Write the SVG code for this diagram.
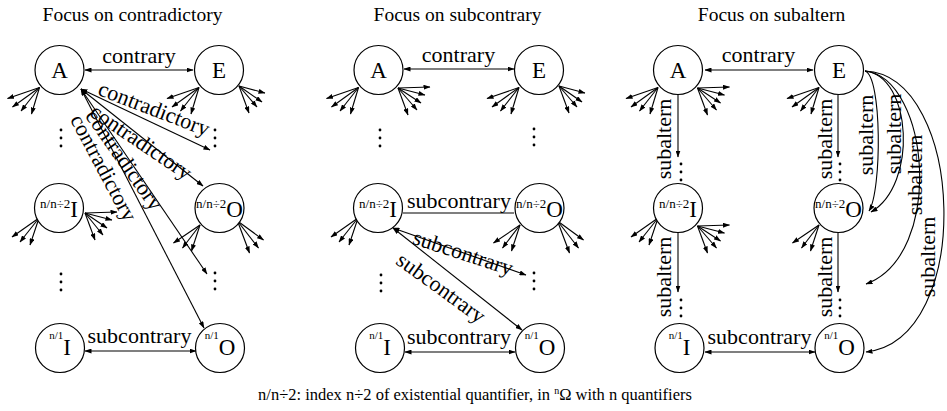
<svg xmlns="http://www.w3.org/2000/svg" xmlns:xlink="http://www.w3.org/1999/xlink" width="947" height="411" viewBox="0 0 947 411">
<style>
text{font-family:"Liberation Serif","Times New Roman",serif;fill:#000}
.title{font-size:19.5px}
.lbl{font-size:22px}
.big{font-size:23px}
.sup2{font-size:13px}
.sup1{font-size:11px}
.cap{font-size:16.5px}
circle.node{fill:#fff;stroke:#000;stroke-width:1.2}
.c line,.c path,.fan line{stroke:#000;stroke-width:1.1;fill:none}
.dbl{marker-start:url(#ah);marker-end:url(#ah)}
.one,.fan line{marker-end:url(#ah)}
.dot{fill:#000}
</style>
<defs>
<marker id="ah" markerUnits="userSpaceOnUse" markerWidth="7" markerHeight="5" refX="6.5" refY="2.5" orient="auto-start-reverse"><path d="M0,0 L7,2.5 L0,5 z" fill="#000"/></marker>
<g id="fanL4" class="fan"><line x1="-20" y1="17.5" x2="-52" y2="28.5"/><line x1="-20" y1="17.5" x2="-47" y2="37"/><line x1="-20" y1="17.5" x2="-38.5" y2="41"/><line x1="-20" y1="17.5" x2="-28" y2="44"/></g>
<g id="fanR5" class="fan"><line x1="19.5" y1="18" x2="51.5" y2="17"/><line x1="19.5" y1="18" x2="46.5" y2="25"/><line x1="19.5" y1="18" x2="42.5" y2="33"/><line x1="19.5" y1="18" x2="38.5" y2="40"/><line x1="19.5" y1="18" x2="29.5" y2="45"/></g>
<g id="fanER4" class="fan"><line x1="20" y1="16" x2="46" y2="23"/><line x1="20" y1="16" x2="43" y2="32"/><line x1="20" y1="16" x2="38" y2="37"/><line x1="20" y1="16" x2="30" y2="43"/></g>
<g id="fanIL3" class="fan"><line x1="-20" y1="10" x2="-47" y2="29"/><line x1="-20" y1="10" x2="-39" y2="34"/><line x1="-20" y1="10" x2="-29" y2="37"/></g>
<g id="fanOL3" class="fan"><line x1="-19.5" y1="17" x2="-46" y2="35"/><line x1="-19.5" y1="17" x2="-37" y2="40"/><line x1="-19.5" y1="17" x2="-28" y2="43"/></g>
<g id="fanOR3" class="fan"><line x1="18" y1="13" x2="44" y2="32"/><line x1="18" y1="13" x2="39" y2="40"/><line x1="18" y1="13" x2="30" y2="45"/></g>
<g id="fanIR5b" class="fan"><line x1="26" y1="5" x2="58" y2="4"/><line x1="26" y1="5" x2="53" y2="12"/><line x1="26" y1="5" x2="48" y2="20"/><line x1="26" y1="5" x2="44" y2="27"/><line x1="26" y1="5" x2="36" y2="32"/></g>
<g id="vdots"><circle class="dot" cx="0" cy="0" r="1.4"/><circle class="dot" cx="0" cy="8" r="1.4"/><circle class="dot" cx="0" cy="16" r="1.4"/></g>
</defs>
<rect width="947" height="411" fill="#fff"/>

<!-- titles -->
<text class="title" x="132.5" y="21" text-anchor="middle">Focus on contradictory</text>
<text class="title" x="457.5" y="21" text-anchor="middle">Focus on subcontrary</text>
<text class="title" x="771.5" y="21" text-anchor="middle">Focus on subaltern</text>

<!-- connectors -->
<g id="connectors" class="c">
 <!-- panel 1 -->
 <line class="dbl" x1="85" y1="70" x2="193" y2="70"/>
 <line class="dbl" x1="81" y1="89" x2="210" y2="150"/>
 <line class="dbl" x1="81" y1="89" x2="203" y2="186"/>
 <line class="dbl" x1="81" y1="89" x2="207" y2="274"/>
 <line class="dbl" x1="81" y1="89" x2="204" y2="328"/>
 <line class="dbl" x1="85" y1="351" x2="196" y2="351"/>
 <use href="#fanL4" x="59.5" y="70"/>
 <use href="#fanL4" x="219" y="70"/>
 <use href="#fanER4" x="219" y="70"/>
 <use href="#fanIL3" x="59" y="208"/>
 <use href="#fanIR5b" x="59" y="208"/>
 <use href="#fanOL3" x="219.5" y="208"/>
 <use href="#fanOR3" x="219.5" y="208"/>
 <!-- panel 2 -->
 <line class="dbl" x1="404" y1="69" x2="514" y2="69"/>
 <line x1="403" y1="213" x2="514" y2="213"/>
 <line class="dbl" x1="393" y1="228" x2="526" y2="275"/>
 <line class="dbl" x1="393" y1="228" x2="522" y2="330"/>
 <line class="dbl" x1="405" y1="352" x2="515" y2="352"/>
 <use href="#fanL4" x="378.5" y="70"/>
 <use href="#fanR5" x="378.5" y="70"/>
 <use href="#fanL4" x="539" y="70"/>
 <use href="#fanER4" x="539" y="70"/>
 <use href="#fanIL3" x="378" y="208"/>
 <use href="#fanOL3" x="539.5" y="208"/>
 <use href="#fanOR3" x="539.5" y="208"/>
 <!-- panel 3 -->
 <line class="dbl" x1="705" y1="70" x2="813" y2="70"/>
 <line class="one" x1="678" y1="95" x2="678" y2="157"/>
 <line class="one" x1="838" y1="95" x2="838" y2="157"/>
 <line class="one" x1="678" y1="233" x2="678" y2="292"/>
 <line class="one" x1="838" y1="233" x2="838" y2="292"/>
 <line class="dbl" x1="705" y1="352" x2="815" y2="352"/>
 <path class="one" d="M865,71 C882,76 882,190 869,211"/>
 <path class="one" d="M865,71 C912,76 918,185 871,212"/>
 <path class="one" d="M865,71 C930,78 945,255 866,284"/>
 <path class="one" d="M865,71 C965,75 975,340 866,352"/>
 <use href="#fanL4" x="678" y="70"/>
 <use href="#fanR5" x="678" y="70"/>
 <use href="#fanL4" x="839" y="70"/>
 <use href="#fanIL3" x="678" y="208"/>
 <use href="#fanR5" x="678" y="208"/>
 <use href="#fanOL3" x="838.5" y="208"/>
</g>

<!-- connector labels -->
<g id="labels">
 <text class="lbl" x="139" y="63" text-anchor="middle">contrary</text>
 <text class="lbl" x="154" y="116" text-anchor="middle" transform="rotate(21 154 109)">contradictory</text>
 <text class="lbl" x="141" y="149" text-anchor="middle" transform="rotate(34 141 142)">contradictory</text>
 <text class="lbl" x="124" y="167" text-anchor="middle" transform="rotate(55 124 160)">contradictory</text>
 <text class="lbl" x="103.5" y="175" text-anchor="middle" transform="rotate(62 103.5 168)">contradictory</text>
 <text class="lbl" x="139.5" y="343" text-anchor="middle">subcontrary</text>

 <text class="lbl" x="458.5" y="62" text-anchor="middle">contrary</text>
 <text class="lbl" x="459" y="208" text-anchor="middle">subcontrary</text>
 <text class="lbl" x="463" y="260" text-anchor="middle" transform="rotate(18 463 253)">subcontrary</text>
 <text class="lbl" x="441" y="295" text-anchor="middle" transform="rotate(36 441 288)">subcontrary</text>
 <text class="lbl" x="459" y="344" text-anchor="middle">subcontrary</text>

 <text class="lbl" x="758.5" y="62" text-anchor="middle">contrary</text>
 <text class="lbl" text-anchor="middle" transform="translate(671 139) rotate(-90)">subaltern</text>
 <text class="lbl" text-anchor="middle" transform="translate(671 277) rotate(-90)">subaltern</text>
 <text class="lbl" text-anchor="middle" transform="translate(832 139) rotate(-90)">subaltern</text>
 <text class="lbl" text-anchor="middle" transform="translate(832 277) rotate(-90)">subaltern</text>
 <text class="lbl" text-anchor="middle" transform="translate(873 135) rotate(-90)">subaltern</text>
 <text class="lbl" text-anchor="middle" transform="translate(901 134) rotate(-90)">subaltern</text>
 <text class="lbl" text-anchor="middle" transform="translate(922 175) rotate(-90)">subaltern</text>
 <text class="lbl" text-anchor="middle" transform="translate(935 257) rotate(-90)">subaltern</text>
 <text class="lbl" x="759.5" y="344" text-anchor="middle">subcontrary</text>
</g>

<!-- ellipsis dots -->
<g id="dots">
 <use href="#vdots" x="61" y="130"/>
 <use href="#vdots" x="215" y="130"/>
 <use href="#vdots" x="61" y="274"/>
 <use href="#vdots" x="215" y="273"/>
 <use href="#vdots" x="380" y="130"/>
 <use href="#vdots" x="534" y="129"/>
 <use href="#vdots" x="381" y="275"/>
 <use href="#vdots" x="534" y="273"/>
 <use href="#vdots" x="681" y="164"/>
 <use href="#vdots" x="840" y="164"/>
 <use href="#vdots" x="681" y="300"/>
 <use href="#vdots" x="840" y="300"/>
</g>

<!-- panel 1 nodes -->
<g id="p1-A"><circle class="node" cx="59.5" cy="70" r="24.5"/><text class="big" x="59.5" y="78" text-anchor="middle">A</text></g>
<g id="p1-E"><circle class="node" cx="219" cy="70" r="24.5"/><text class="big" x="219" y="78" text-anchor="middle">E</text></g>
<g id="p1-I2"><circle class="node" cx="59" cy="208" r="24.5"/><text x="59" y="217" text-anchor="middle"><tspan class="sup2" dy="-9">n/n÷2</tspan><tspan class="big" dy="9">I</tspan></text></g>
<g id="p1-O2"><circle class="node" cx="219.5" cy="208" r="24.5"/><text x="219.5" y="217" text-anchor="middle"><tspan class="sup2" dy="-9">n/n÷2</tspan><tspan class="big" dy="9">O</tspan></text></g>
<g id="p1-I1"><circle class="node" cx="60" cy="348" r="24.5"/><text x="60" y="355" text-anchor="middle"><tspan class="sup1" dy="-16">n/1</tspan><tspan class="big" dy="16">I</tspan></text></g>
<g id="p1-O1"><circle class="node" cx="220" cy="348" r="24.5"/><text x="220" y="355" text-anchor="middle"><tspan class="sup1" dy="-16">n/1</tspan><tspan class="big" dy="16">O</tspan></text></g>

<!-- panel 2 nodes -->
<g id="p2-A"><circle class="node" cx="378.5" cy="70" r="24.5"/><text class="big" x="378.5" y="78" text-anchor="middle">A</text></g>
<g id="p2-E"><circle class="node" cx="539" cy="70" r="24.5"/><text class="big" x="539" y="78" text-anchor="middle">E</text></g>
<g id="p2-I2"><circle class="node" cx="378" cy="208" r="24.5"/><text x="378" y="217" text-anchor="middle"><tspan class="sup2" dy="-9">n/n÷2</tspan><tspan class="big" dy="9">I</tspan></text></g>
<g id="p2-O2"><circle class="node" cx="539.5" cy="208" r="24.5"/><text x="539.5" y="217" text-anchor="middle"><tspan class="sup2" dy="-9">n/n÷2</tspan><tspan class="big" dy="9">O</tspan></text></g>
<g id="p2-I1"><circle class="node" cx="380" cy="348" r="24.5"/><text x="380" y="355" text-anchor="middle"><tspan class="sup1" dy="-16">n/1</tspan><tspan class="big" dy="16">I</tspan></text></g>
<g id="p2-O1"><circle class="node" cx="540" cy="348" r="24.5"/><text x="540" y="355" text-anchor="middle"><tspan class="sup1" dy="-16">n/1</tspan><tspan class="big" dy="16">O</tspan></text></g>

<!-- panel 3 nodes -->
<g id="p3-A"><circle class="node" cx="678" cy="70" r="24.5"/><text class="big" x="678" y="78" text-anchor="middle">A</text></g>
<g id="p3-E"><circle class="node" cx="839" cy="70" r="24.5"/><text class="big" x="839" y="78" text-anchor="middle">E</text></g>
<g id="p3-I2"><circle class="node" cx="678" cy="208" r="24.5"/><text x="678" y="217" text-anchor="middle"><tspan class="sup2" dy="-9">n/n÷2</tspan><tspan class="big" dy="9">I</tspan></text></g>
<g id="p3-O2"><circle class="node" cx="838.5" cy="208" r="24.5"/><text x="838.5" y="217" text-anchor="middle"><tspan class="sup2" dy="-9">n/n÷2</tspan><tspan class="big" dy="9">O</tspan></text></g>
<g id="p3-I1"><circle class="node" cx="679.5" cy="348" r="24.5"/><text x="679.5" y="355" text-anchor="middle"><tspan class="sup1" dy="-16">n/1</tspan><tspan class="big" dy="16">I</tspan></text></g>
<g id="p3-O1"><circle class="node" cx="839.5" cy="348" r="24.5"/><text x="839.5" y="355" text-anchor="middle"><tspan class="sup1" dy="-16">n/1</tspan><tspan class="big" dy="16">O</tspan></text></g>

<!-- caption -->
<text class="cap" x="475" y="400" text-anchor="middle">n/n÷2: index n÷2 of existential quantifier, in <tspan font-size="10" dy="-6">n</tspan><tspan dy="6">Ω with n quantifiers</tspan></text>
</svg>
